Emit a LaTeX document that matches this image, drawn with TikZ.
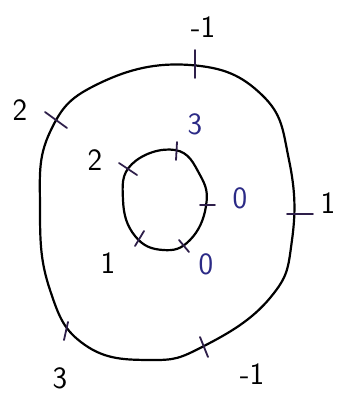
\documentclass[tikz,border=0pt]{standalone}
\usepackage{fontspec}
\setmainfont{DejaVu Sans}
\begin{document}
\begin{tikzpicture}[x=1pt,y=-1pt,
  curve/.style={line width=2.2pt, black, line join=round},
  tickmark/.style={line width=1.8pt, color=tickc, line cap=round},
  lab/.style={font=\fontsize{31}{33}\selectfont\sffamily, inner sep=0pt},
  bluelab/.style={lab, text=labblue}]
\definecolor{labblue}{HTML}{2B2A86}
\definecolor{tickc}{HTML}{2E1F4A}
\useasboundingbox (0,0) rectangle (339,396);
% outer curve
\draw[curve] plot[smooth cycle, tension=0.75] coordinates {
  (190,65) (262,95) (289,160) (292,240) (270,298) (204,346)
  (150,360) (85,345) (50,290) (40,210) (50,132) (100,83)};
% inner curve
\draw[curve] plot[smooth cycle, tension=0.75] coordinates {
  (175,150) (200,175) (206,206) (190,240) (163,250) (135,236) (123,200) (132,164)};
% outer ticks
\coordinate (ot1) at (195,50); \coordinate (ot2) at (195,78);
\draw[tickmark] (ot1) -- (ot2);
\coordinate (ol1) at (45,112); \coordinate (ol2) at (67,128);
\draw[tickmark] (ol1) -- (ol2);
\coordinate (or1) at (287,214); \coordinate (or2) at (313,214);
\draw[tickmark] (or1) -- (or2);
\coordinate (ob1) at (68,322); \coordinate (ob2) at (64,340);
\draw[tickmark] (ob1) -- (ob2);
\coordinate (obr1) at (200,337); \coordinate (obr2) at (208,357);
\draw[tickmark] (obr1) -- (obr2);
% inner ticks
\coordinate (it1) at (177,142); \coordinate (it2) at (176,160);
\draw[tickmark] (it1) -- (it2);
\coordinate (il1) at (119,163); \coordinate (il2) at (137,175);
\draw[tickmark] (il1) -- (il2);
\coordinate (ir1) at (200,205); \coordinate (ir2) at (215,205);
\draw[tickmark] (ir1) -- (ir2);
\coordinate (ibl1) at (144,231); \coordinate (ibl2) at (135,246);
\draw[tickmark] (ibl1) -- (ibl2);
\coordinate (ibr1) at (179,240); \coordinate (ibr2) at (189,252);
\draw[tickmark] (ibr1) -- (ibr2);
% outer labels
\node[lab] (Ltop) at (203,27) {-1};
\node[lab] (Lleft) at (20,110) {2};
\node[lab] (Lright) at (328,203) {1};
\node[lab] (Lbl) at (60,378) {3};
\node[lab] (Lbr) at (252,374) {-1};
% inner labels
\node[bluelab] (l3) at (195,124) {3};
\node[lab] (l2) at (95,160) {2};
\node[bluelab] (l0a) at (240,198) {0};
\node[lab] (l1) at (108,263) {1};
\node[bluelab] (l0b) at (206,264) {0};
\end{tikzpicture}
\end{document}
